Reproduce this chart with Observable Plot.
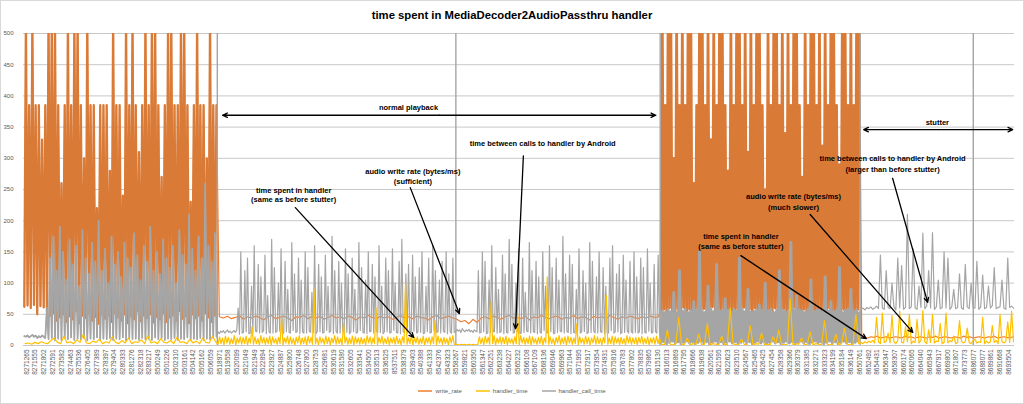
<!DOCTYPE html>
<html>
<head>
<meta charset="utf-8">
<script src="https://cdn.jsdelivr.net/npm/d3@7"></script>
<script src="https://cdn.jsdelivr.net/npm/@observablehq/plot@0.6"></script>
<style>
html,body{margin:0;padding:0;background:#fff;}
#chart{position:relative;width:1024px;height:404px;overflow:hidden;font-family:"Liberation Sans",Arial,sans-serif;background:#fff;}
#frame{position:absolute;left:0;top:0;width:1024px;height:404px;box-sizing:border-box;border:1px solid #d9d9d9;pointer-events:none;}
#title{height:28px;line-height:30px;text-align:center;font-weight:bold;font-size:11.3px;color:#000;}
#plot svg{display:block;}
#legend{display:flex;justify-content:center;align-items:center;gap:14px;height:16px;font-size:6px;color:#595959;}
#legend .item{display:flex;align-items:center;gap:3px;}
</style>
</head>
<body>
<div id="chart">
  <div id="title">time spent in MediaDecoder2AudioPassthru handler</div>
  <div id="plot"></div>
  <div id="legend"></div>
  <div id="frame"></div>
</div>
<script>
// ---- tick labels (timestamps) ----
const labelsA = ["8271265","8271555","8271802","8272591","8273582","8274463","8275536","8276405","8277389","8278397","8279404","8280333","8281276","8282318","8283217","8500249","8501226","8502310","8503161","8504142","8505162","8506059"];
const labelsB = ["8518971","8519558","8520099","8521049","8521949","8522894","8523927","8524887","8525800","8526748","8527800","8528753","8529681","8530619","8531580","8532605","8533541","8534500","8535513","8536525","8537511","8538379","8539403","8540388","8541333","8542376","8543323","8558267","8559821","8560350","8561347","8562251","8563238","8564227","8565232","8566108","8567109","8568136","8569046","8569963","8571044","8571995","8572917","8573954","8574931","8575816","8576783","8577802","8578835","8579865"];
const labelsC = ["8615130","8616013","8616869","8617795","8618666","8619638","8620561","8621595","8622623","8623510","8624567","8625465","8626425","8627454","8628358","8629366","8630379","8631385","8632271","8633323","8634199","8635184","8636149"];
const labelsD = ["8650761","8652492","8654431","8656347","8658307","8660174","8662065","8664040","8665943","8667917","8669800","8671807","8673773","8686077","8688077","8689861","8691668","8693504"];
const yTicks = [0,50,100,150,200,250,300,350,400,450,500];

const seriesNames = ["write_rate","handler_time","handler_call_time"];
const seriesColors = ["#ED7D31","#FFC000","#A5A5A5"];
const denseOrange = "#DA7A37";

// ---- write_rate (bytes/ms) ----
const writeRateA = [62,520,64,385,60,520,65,385,50,385,63,330,61,385,55,520,48,520,52,520,40,385,45,260,50,385,38,520,47,385,42,520,55,520,36,385,48,300,44,520,52,385,40,385,46,220,35,385,50,385,43,385,48,280,38,520,52,385,45,385,40,240,50,520,36,385,47,520,42,385,55,310,39,385,48,520,44,385,50,520,37,520,46,385,42,270,52,385,38,520,45,520,48,385,40,385,55,520,43,520,47,385,36,230,50,385,44,520,48,385,40,385,52,300,45,520,38,385,48,385];
const writeRateB = [46,44,47,43,45,48,42,46,44,47,45,41,46,48,43,45,47,44,40,46,45,48,43,46,44,47,42,45,48,44,46,43,47,45,41,46,44,48,45,43,47,44,46,42,45,48,44,46,43,47,45,44,41,46,48,43,45,47,44,42,38,40,35,42,37,44,46,43,47,45,42,46,48,44,45,43,47,41,46,44,48,45,43,46,47,42,45,44,48,43,46,45,41,47,44,46,43,48,45,42,46,44,47,45,43,46,44,47,45,46];
const writeRateC = [56,520,58,385,55,520,60,520,57,300,54,520,59,385,56,520,61,385,55,520,
58,520,57,260,54,385,60,520,56,520,59,385,55,520,58,330,62,520,56,385,
57,520,55,520,60,385,54,280,58,520,56,385,59,520,57,520,55,385,61,520,
56,310,58,520,54,385,60,520,57,520,55,385,59,250,56,520,58,385,54,520,
60,520,57,385,55,520,59,340,56,520,58,385,54,520,61,520,57,385,55,270,
58,520,56,385,60,520,54,520,57,385,59,520,55,320,58,520,56,385,60,520,
54,520,57,385,59,290,55,520,58,520,56,385,60,520,57,385,55,520,58,520];
const writeRateD = [14,13,12,14,13,15,12,13,14,12,13,14,13,12,15,13,14,12,13,14,13,12,14,13,15,12,13,14,13,12,14,13,12,15,13,14,12,13,14,13,12,14,13,15,12,13,14,13,12,14];

// ---- handler_call_time (ms) ----
const callTimeA = [15,14,16,13,15,17,14,16,12,15,13,16,14,12,
60,10,140,12,175,8,120,11,190,9,
150,12,105,10,170,13,130,9,160,11,
95,10,185,12,140,8,115,11,165,10,
135,13,200,9,120,11,155,10,100,12,
175,9,130,11,150,10,110,13,165,8,
140,12,125,10,180,11,145,9,105,12,
160,10,135,11,190,9,120,13,150,10,
115,12,170,9,140,11,125,10,160,12,
100,9,185,11,145,10,130,13,210,9,
155,11,120,10,175,12,140,9,260,11,
160,10,135,12,180,14];
const callTimeB = [22,19,23,21,24,20,22,25,21,23,20,22,24,21,25,60,
18,150,20,21,120,22,140,19,20,95,21,160,23,22,130,20,110,21,24,145,
19,80,22,20,170,20,125,21,23,100,23,155,19,20,135,22,90,21,20,165,
24,115,21,22,140,19,105,22,20,150,20,125,23,21,85,21,160,19,22,130,
22,110,20,21,145,24,95,21,23,175,19,120,22,20,135,20,100,23,21,155,
21,115,19,22,140,22,90,20,21,165,24,125,21,20,105,19,150,22,23,130,
20,110,23,21,160,21,95,19,22,140,22,120,20,21,155,24,100,21,20,135,
19,170,22,21,115,20,130,21,23,145,23,110,20,22,125,21,150,19,20,95,
22,140,20,21,160,24,120,21,22,105,20,135,23,21,150,19,115,22,20,140,21,
22,26,23,25,21,27,24,22,25,23,26,22,24,21,25,23,22,
120,20,21,150,22,135,19,20,105,21,160,23,22,125,20,90,21,22,145,19,
115,21,20,170,24,130,20,21,100,22,155,19,20,140,21,85,23,22,165,20,
120,22,21,135,19,110,21,20,150,24,95,20,21,160,22,125,19,20,140,21,
105,23,22,175,20,115,22,21,145,19,130,21,20,90,24,155,20,22,120,22,
100,19,21,165,21,135,23,20,110,20,150,22,21,125,19,95,21,20,140,24,
160,20,22,115,22,130,19,21,145,21,105,23,20,135,22,20,
150,21,110,20,22,140,19,125,21,20,155,23,100,20,21,130,22,20,145,21];
const callTimeC = [4,55,6,53,3,57,5,54,7,85,4,52,6,120,3,55,5,58,7,53,
4,56,6,70,3,57,5,150,7,55,4,53,6,95,3,58,5,54,7,130,
4,55,6,57,3,75,5,56,7,54,4,58,6,55,3,140,5,57,7,54,
4,90,6,53,3,55,5,57,7,65,4,56,6,100,3,55,5,58,7,53,
4,56,6,120,3,57,5,55,7,53,4,165,6,56,3,80,5,57,7,55,
4,53,6,58,3,105,5,54,7,56,4,57,6,53,3,110,5,55,7,70,
4,54,6,57,3,125,5,53,7,56,4,58,6,90,3,55,5,57,7,52];
const callTimeD = [58,60,57,61,59,62,58,60,63,59,
145,60,58,120,61,59,100,62,57,140,
60,128,58,61,210,59,62,155,60,58,
95,61,180,59,63,120,60,181,58,62,
105,59,61,150,60,140,58,62,90,59,
61,115,60,58,130,62,59,100,61,60,
135,58,62,113,59,61,95,60,64,125,
59,61,62,105,60,58,140,61,63,60];
// off-scale handler_call_time at the first sample after each time jump
const gapAt = [22.1, 49.3, 72.6, 95.4, 108.3];
const gapCallTime = [12900, 14900, 35300, 14600, 12300];

// ---- handler_time (ms) ----
const handlerTimeA = [3,4,2,5,3,6,4,3,8,12,5,3,15,4,6,3,9,5,18,4,3,7,5,10,3,6,4,14,5,3,8,4,12,3,6,5,9,3,16,4,6,3,11,5,4,8,3,13,5,6,3,10,4,7,3,12,5,4,15,6];
const handlerTimeB = [2,14,3,12,1,15,4,13,2,11,3,16,1,12,4,14,2,13,3,15,
1,12,4,30,2,14,3,11,1,16,4,13,2,12,3,15,1,14,4,11,
2,13,3,45,1,12,4,15,2,14,3,11,1,13,4,16,2,12,3,14,
1,15,4,13,2,90,3,12,1,14,4,11,2,15,3,13,1,12,4,16,
2,14,3,11,1,35,4,13,2,12,3,15,1,14,4,12,2,13,3,11,
1,16,4,14,2,12,3,60,1,13,4,15,2,11,3,14,1,12,4,13,
2,15,3,11,1,14,4,100,2,12,3,16,1,13,4,14,2,11,3,15,
1,12,4,13,2,14,3,40,1,15,4,12,2,13,3,11,1,14,4,16,
2,
1,2,1,1,2,1,2,1,1,2,1,1,2,1,1,
2,14,3,12,1,15,4,13,2,70,3,16,1,12,4,14,2,13,3,15,
1,12,4,11,2,14,3,50,1,16,4,13,2,12,3,15,1,14,4,11,
2,13,3,15,1,12,4,110,2,14,3,11,1,13,4,16,2,12,3,14,
1,15,4,13,2,12,3,35,1,14,4,11,2,15,3,13,1,12,4,16,
2,14,3,11,1,13,4,80,2,12,3,15,1,14,4,12,2,13,3,11,
1,16,4,14,2,12,3,13,1,13,4,15,2,11,3,14,1,12,4,13,
2,15,3,12];
const handlerTimeC = [2,1,25,2,1,3,45,1,2,12,1,3,2,18,1,2,35,1,3,2,1,15,2,1,60,3,1,2,10,1,2,32,1,3,2,20,1,2,1,14,3,25,2,1,2,75,1,3,2,12,1,2,22,1,3,2,1,40,2,1,2,18,1,3,28,2,1,2,50,3];
const handlerTimeD = [5,3,6,4,7,5,8,4,45,6,3,52,5,7,20,4,48,6,3,8,55,5,4,30,6,50,3,7,5,42,4,8,56,6,3,25,5,50,4,7,6,35,3,5,52,4,8,6,15,3,5,40,7,4,6,28,5,3,8,10,4,6,5,45,3,7,4,6,32,5,8,3,50,6,4,7,38,5,55,6];

// ---- annotations ----
const noteTexts = [
  {text:"normal playback", x:43.9, y:381},
  {text:"time between calls to handler by Android", x:59.2, y:324},
  {text:"audio write rate (bytes/ms)", x:44.4, y:279},
  {text:"(sufficient)", x:44.4, y:263},
  {text:"time spent in handler", x:30.8, y:248},
  {text:"(same as before stutter)", x:30.8, y:234},
  {text:"stutter", x:104.2, y:357},
  {text:"time between calls to handler by Android", x:99.1, y:300},
  {text:"(larger than before stutter)", x:99.1, y:282},
  {text:"audio write rate (bytes/ms)", x:87.8, y:239},
  {text:"(much slower)", x:87.8, y:221},
  {text:"time spent in handler", x:81.8, y:175},
  {text:"(same as before stutter)", x:81.8, y:159}
];
const noteArrows = [
  {x1:47.4, y1:369, x2:22.7, y2:369},
  {x1:47.4, y1:369, x2:72.1, y2:369},
  {x1:57.0, y1:304, x2:56.1, y2:27},
  {x1:44.1, y1:253, x2:49.7, y2:51},
  {x1:31.0, y1:221, x2:44.5, y2:13},
  {x1:104.3, y1:346, x2:95.8, y2:346},
  {x1:104.3, y1:346, x2:112.8, y2:346},
  {x1:99.1, y1:268, x2:103.1, y2:69},
  {x1:89.7, y1:210, x2:101.4, y2:21},
  {x1:81.8, y1:144, x2:96.1, y2:11}
];

// category-axis segments (in label units) between time jumps
const segBounds = [0, 22.1, 72.6, 95.4, 113];

const tickLabels = [...labelsA, ...labelsB, ...labelsC, ...labelsD];
const tickPos = tickLabels.map((_, i) => i + 0.35);

function place(parts) {
  const out = [];
  for (const [s, vals] of parts) {
    const x0 = segBounds[s], x1 = segBounds[s + 1];
    const step = (x1 - x0) / vals.length;
    vals.forEach((v, j) => out.push({x: x0 + (j + 0.5) * step, y: v}));
  }
  return out;
}
const writeRate = place([[0, writeRateA], [1, writeRateB], [2, writeRateC], [3, writeRateD]]);
const callTime = place([[0, callTimeA], [1, callTimeB], [2, callTimeC], [3, callTimeD]]);
const handlerTime = place([[0, handlerTimeA], [1, handlerTimeB], [2, handlerTimeC], [3, handlerTimeD]]);
const gaps = gapAt.map((x, i) => ({x, y: gapCallTime[i]}));

const font = "Liberation Sans, Arial, sans-serif";
const lw = 1.2;
const line = (data, color, width) => Plot.line(data, {x: "x", y: "y", stroke: color, strokeWidth: width, clip: true});

const chart = Plot.plot({
  width: 1024,
  height: 355,
  marginLeft: 23,
  marginRight: 10,
  marginTop: 5,
  marginBottom: 38,
  x: {domain: [0, 113]},
  y: {domain: [0, 500]},
  style: {fontFamily: font, background: "transparent"},
  marks: [
    Plot.gridY(yTicks, {stroke: "#c8c8c8", strokeOpacity: 1, strokeWidth: 1}),
    // write_rate
    line(writeRate, seriesColors[0], lw),
    line(place([[0, writeRateA]]), denseOrange, 2.3),
    line(place([[2, writeRateC]]), denseOrange, 2.7),
    // handler_call_time
    Plot.ruleX(gaps, {x: "x", y1: 0, y2: "y", stroke: seriesColors[2], strokeWidth: 1.4, clip: true}),
    line(callTime, seriesColors[2], lw),
    line(place([[0, callTimeA]]), seriesColors[2], 1.7),
    line(place([[2, callTimeC]]), seriesColors[2], 2.9),
    // handler_time
    line(handlerTime, seriesColors[1], lw),
    Plot.axisX({ticks: tickPos, tickFormat: (d) => tickLabels[Math.round(d - 0.35)], tickRotate: -90, tickSize: 0, tickPadding: 4, fontSize: 6.5, fill: "#595959", label: null}),
    Plot.axisY({ticks: yTicks, tickSize: 0, tickPadding: 10, fontSize: 6, fill: "#595959", label: null}),
    Plot.arrow(noteArrows, {x1: "x1", y1: "y1", x2: "x2", y2: "y2", stroke: "#000", strokeWidth: 1.3, headLength: 6, headAngle: 50}),
    Plot.text(noteTexts, {x: "x", y: "y", text: "text", fontSize: 7.5, fontWeight: "bold", fill: "#000", fontFamily: font})
  ]
});
document.getElementById("plot").appendChild(chart);

// legend
const legend = document.getElementById("legend");
seriesNames.forEach((name, i) => {
  const item = document.createElement("span");
  item.className = "item";
  item.innerHTML = `<svg width="14" height="4"><line x1="0" y1="2" x2="14" y2="2" stroke="${seriesColors[i]}" stroke-width="1.5"/></svg>`;
  const t = document.createElement("span");
  t.textContent = name;
  item.appendChild(t);
  legend.appendChild(item);
});
</script>
</body>
</html>
